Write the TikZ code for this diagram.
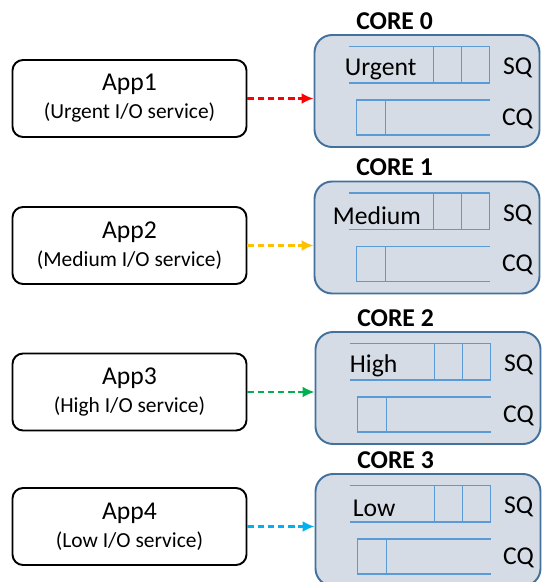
\documentclass[tikz,border=0pt]{standalone}
\usepackage{fontspec}
\setmainfont{Carlito}
\usepackage{tikz}
\usetikzlibrary{positioning,arrows.meta}

\definecolor{coreFill}{HTML}{D6DCE5}
\definecolor{coreLine}{HTML}{41719C}
\definecolor{queueLine}{HTML}{5B9BD5}
\definecolor{urgentCol}{HTML}{FF0000}
\definecolor{mediumCol}{HTML}{FFC000}
\definecolor{highCol}{HTML}{00B050}
\definecolor{lowCol}{HTML}{00B0F0}
\newcommand{\subtxt}{\fontsize{12.2}{14}\selectfont}

\begin{document}
\begin{tikzpicture}[
	app/.style={rectangle, line width=1.1pt, draw=black, rounded corners=6pt, minimum width=4.68cm, minimum height=1.54cm, inner sep=0pt, align=center, font=\fontsize{14.6}{16}\selectfont},
	core/.style={rectangle, draw=coreLine, fill=coreFill, line width=1.1pt, rounded corners=10pt, minimum width=4.5cm, minimum height=2.24cm, inner sep=0pt},
	queue/.style={draw=queueLine, line width=0.9pt},
	qtext/.style={inner sep=0pt, font=\fontsize{14.6}{16}\selectfont},
	flow/.style={line width=1.5pt, dash pattern=on 3.6pt off 2.2pt, -{Latex[length=0.24cm, width=0.22cm]}}
	]
	\useasboundingbox (0,0) rectangle (10.88,-11.64);
	
	\node[app] (app1) at (2.59,-1.97) {App1\\{\subtxt (Urgent I/O service)}};
	\node[app, below of=app1, node distance=2.94cm] (app2) {App2\\{\subtxt (Medium I/O service)}};
	\node[app, below of=app2, node distance=2.93cm] (app3) {App3\\{\subtxt (High I/O service)}};
	\node[app, below of=app3, node distance=2.69cm] (app4) {App4\\{\subtxt (Low I/O service)}};
	
	\node[core, right of=app1, node distance=5.95cm, yshift=0.15cm] (core0) {};
	\node[core, right of=app2, node distance=5.95cm, yshift=0.16cm] (core1) {};
	\node[core, right of=app3, node distance=5.97cm, yshift=0.08cm] (core2) {};
	\node[core, right of=app4, node distance=5.97cm, yshift=-0.07cm] (core3) {};
	
	\foreach \c/\prio/\tx in {0/Urgent/0.62, 1/Medium/0.38, 2/High/0.70, 3/Low/0.76} {
		\begin{scope}[shift={(core\c.north west)}]
			\node[qtext, font=\fontsize{14.6}{16}\bfseries] (lbl\c) at (1.62,0.26) {CORE \c};
			% submission queue
			\draw[queue] (0.70,-0.25) -- (3.52,-0.25) -- (3.52,-0.98) -- (0.70,-0.98);
			\draw[queue] (2.40,-0.25) -- (2.40,-0.98) (2.96,-0.25) -- (2.96,-0.98);
			% completion queue
			\draw[queue] (3.52,-1.32) -- (0.86,-1.32) -- (0.86,-2.02) -- (3.52,-2.02);
			\draw[queue] (1.44,-1.32) -- (1.44,-2.02);
			\node[qtext, anchor=west] (prio\c) at (\tx,-0.70) {\prio};
			\node[qtext] (sqt\c) at (4.08,-0.68) {SQ};
			\node[qtext] (cqt\c) at (4.08,-1.69) {CQ};
		\end{scope}
	}
	
	\foreach \a/\c/\col in {1/0/urgentCol, 2/1/mediumCol, 3/2/highCol, 4/3/lowCol}
		\draw[flow, \col] (app\a.east) -- (app\a.east -| core\c.west);
\end{tikzpicture}
\end{document}
